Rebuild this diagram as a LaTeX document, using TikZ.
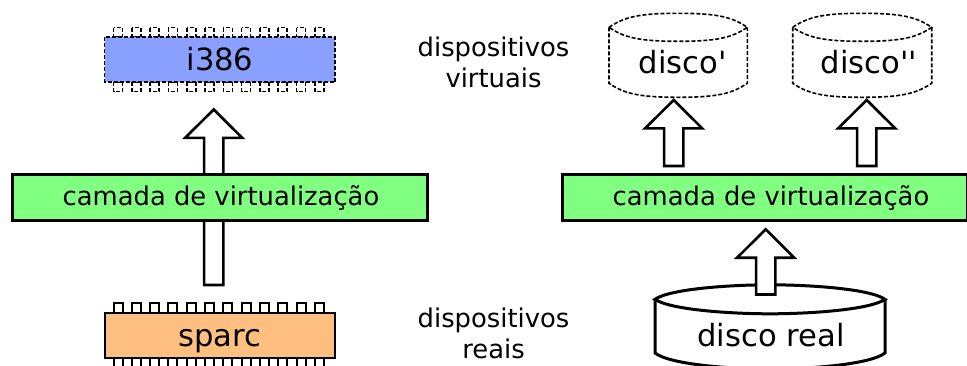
\documentclass[tikz,border=0pt]{standalone}
\usepackage{fontspec}
\setmainfont{DejaVu Sans}
\usetikzlibrary{calc}
\definecolor{chipblue}{HTML}{8AA0FF}
\definecolor{chiporange}{HTML}{FFBF80}
\definecolor{layergreen}{HTML}{80FF80}
\tikzset{
  x=1pt,y=-1pt,
  bigtext/.style={font=\fontsize{30.6}{30.6}\selectfont,anchor=base,inner sep=0pt},
  midtext/.style={font=\fontsize{25.8}{25.8}\selectfont,anchor=base,inner sep=0pt},
  layerbox/.style={draw,line width=3pt,fill=layergreen,minimum width=#1,minimum height=46pt,inner sep=0pt},
  realline/.style={draw,line width=2pt},
  virtline/.style={draw,line width=1.6pt,dash pattern=on 4pt off 2pt},
  blockarrow/.style={draw,line width=2.6pt,fill=white,miter limit=10},
  diskreal/.style={draw,line width=3pt,fill=white},
  diskvirt/.style={draw,line width=1.6pt,dash pattern=on 4pt off 2pt,fill=white},
}
\newcommand{\chipbody}[3]{%
  \foreach \i in {0,...,11}{
    \path[#2,fill=white] (113.5+18.3*\i,#1-9.5) rectangle (122.5+18.3*\i,#1);
    \path[#2,fill=white] (113.5+18.3*\i,#1+45) rectangle (122.5+18.3*\i,#1+54.5);
  }
  \path[#2,fill=#3] (104.5,#1) rectangle (335,#1+45);
}
% left x, right x, top centre y, side bottom y, top ry, style, bottom ry
\newcommand{\diskshape}[7]{%
  \path[#6] (#1,#3) -- (#1,#4)
    .. controls (#1+15,#4+0.72*#7) and ({(#1+#2)/2-40},#4+#7) .. ({(#1+#2)/2},#4+#7)
    .. controls ({(#1+#2)/2+40},#4+#7) and (#2-15,#4+0.72*#7) .. (#2,#4)
    -- (#2,#3);
  \path[#6] (#1,#3)
    .. controls (#1+15,#3-0.72*#5) and ({(#1+#2)/2-40},#3-#5) .. ({(#1+#2)/2},#3-#5)
    .. controls ({(#1+#2)/2+40},#3-#5) and (#2-15,#3-0.72*#5) .. (#2,#3)
    .. controls (#2-15,#3+0.72*#5) and ({(#1+#2)/2+40},#3+#5) .. ({(#1+#2)/2},#3+#5)
    .. controls ({(#1+#2)/2-40},#3+#5) and (#1+15,#3+0.72*#5) .. (#1,#3) -- cycle;
}
\newcommand{\blockup}[2]{%
  \path[blockarrow] (#2) -- ($(#2)+(28.6,28.4)$) -- ($(#2)+(9.6,28.4)$)
    -- ($(#1)+(9.6,0)$) -- ($(#1)+(-9.6,0)$) -- ($(#2)+(-9.6,28.4)$)
    -- ($(#2)+(-28.6,28.4)$) -- cycle;
}
\begin{document}
\begin{tikzpicture}
\useasboundingbox (0,0) rectangle (967,365);
\clip (0,0) rectangle (967,365);

\coordinate (tailA) at (213.7,285);
\coordinate (tipA) at (213.7,109.5);
\blockup{tailA}{tipA}

\chipbody{37}{virtline}{chipblue}
\node[bigtext] (i386) at (220,70.7) {i386};
\chipbody{312.7}{realline}{chiporange}
\node[bigtext] (sparc) at (219.5,346.7) {sparc};

\node[layerbox=415pt] (layerA) at (219.5,197) {};
\node[midtext] (layerAtext) at (221,205) {camada de virtualização};

\node[midtext] (lblA) at (493.5,56) {dispositivos};
\node[midtext] (lblB) at (493.5,87) {virtuais};
\node[midtext] (lblC) at (493.5,327) {dispositivos};
\node[midtext] (lblD) at (493.5,358) {reais};

\diskshape{609}{747.3}{27.3}{83.3}{14}{diskvirt}{14}
\node[bigtext] (discoA) at (682.5,73.3) {disco\textquotesingle};
\diskshape{792.7}{931.7}{27.3}{83.3}{14}{diskvirt}{14}
\node[bigtext] (discoB) at (869,73.3) {disco\textquotesingle\textquotesingle};

\diskshape{655}{885}{299.3}{353}{14.5}{diskreal}{16}
\node[bigtext] (discoR) at (771,346.7) {disco real};

\coordinate (tailB) at (673.7,166);
\coordinate (tipB) at (673.7,100);
\blockup{tailB}{tipB}
\coordinate (tailC) at (866.7,166);
\coordinate (tipC) at (866.7,100);
\blockup{tailC}{tipC}
\coordinate (tailD) at (765.7,294.5);
\coordinate (tipD) at (765.7,229.3);
\blockup{tailD}{tipD}

\node[layerbox=405pt] (layerB) at (765,197) {};
\node[midtext] (layerBtext) at (771,205) {camada de virtualização};
\end{tikzpicture}
\end{document}
